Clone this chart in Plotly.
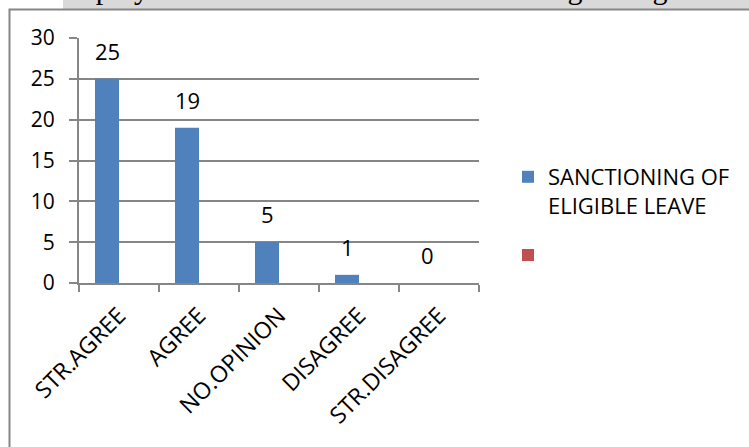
import plotly.graph_objects as go

# Survey responses on sanctioning of eligible leave
categories = ["STR.AGREE", "AGREE", "NO.OPINION", "DISAGREE", "STR.DISAGREE"]
sanctioning = [25, 19, 5, 1, 0]
second_series = [None, None, None, None, None]
y_ticks = [0, 5, 10, 15, 20, 25, 30]

W, H = 749, 447
FONT = "Open Sans"
GRID = "#868686"


def px(x):
    return x / W


def py(y):
    return 1 - y / H


fig = go.Figure()
fig.add_trace(go.Bar(
    x=categories, y=sanctioning,
    name="SANCTIONING OF<br>ELIGIBLE LEAVE",
    marker=dict(color="#4F81BD", line=dict(width=0)),
    legendgroup="a",
))
fig.add_trace(go.Bar(
    x=categories, y=second_series,
    name=" ",
    marker=dict(color="#C0504D", line=dict(width=0)),
    legendgroup="b",
))

# value labels above each blue bar
for cat, v in zip(categories, sanctioning):
    fig.add_annotation(
        x=cat, y=v, xref="x", yref="y", text=str(v),
        showarrow=False, xshift=-12, yshift=11, yanchor="bottom",
        font=dict(family=FONT, size=22, color="black"),
    )

# caption line of the surrounding document, mostly cut off at the top
fig.add_shape(type="rect", xref="paper", yref="paper",
              x0=px(63), x1=1.0, y0=py(9), y1=1.0,
              fillcolor="#d9d9d9", line=dict(width=0), layer="below")
fig.add_annotation(
    xref="paper", yref="paper", x=px(52), y=py(-12), xanchor="left", yanchor="middle",
    text="Employees' attitude towards the sanctioning of eligible leave",
    showarrow=False, font=dict(family="Liberation Serif", size=30, color="black"),
)

# chart frame
fig.add_shape(type="rect", xref="paper", yref="paper",
              x0=px(9.5), x1=px(760), y0=py(460), y1=py(9.5),
              line=dict(color="#868686", width=2), fillcolor="rgba(0,0,0,0)")

fig.update_layout(
    width=W, height=H,
    margin=dict(l=0, r=0, t=0, b=0, autoexpand=False),
    paper_bgcolor="white", plot_bgcolor="white",
    barmode="group", bargap=0.4, bargroupgap=0,
    font=dict(family=FONT, size=20, color="black"),
    showlegend=True,
    legend=dict(
        x=px(508), y=py(156), xanchor="left", yanchor="top",
        font=dict(family=FONT, size=22, color="black"),
        valign="top", tracegroupgap=18, itemwidth=30,
        bgcolor="rgba(0,0,0,0)",
    ),
    xaxis=dict(
        domain=[px(79), px(479)], automargin=False,
        type="category", tickangle=-45, tickson="boundaries",
        ticks="outside", ticklen=7, tickcolor=GRID, tickwidth=2,
        ticklabelstandoff=8,
        showline=True, linecolor=GRID, linewidth=2,
        showgrid=False, tickfont=dict(family=FONT, size=23),
    ),
    yaxis=dict(
        domain=[py(283), py(38)], automargin=False,
        range=[0, 30], tickvals=y_ticks,
        ticks="outside", ticklen=8, tickcolor=GRID, tickwidth=2,
        ticklabelstandoff=10,
        showline=True, linecolor=GRID, linewidth=2,
        showgrid=True, gridcolor=GRID, gridwidth=2,
        zeroline=False, tickfont=dict(family=FONT, size=21),
    ),
)

fig.write_html("out.html")
